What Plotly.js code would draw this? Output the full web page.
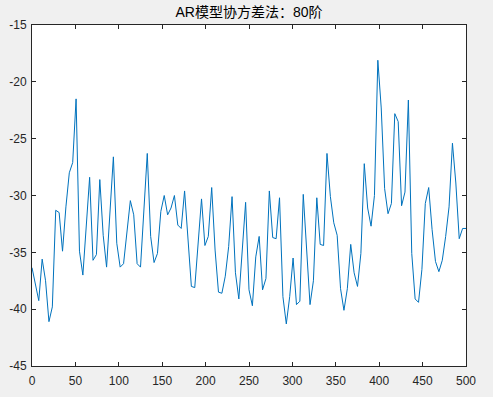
<!DOCTYPE html>
<html>
<head>
<meta charset="utf-8">
<script src="https://cdn.plot.ly/plotly-3.0.1.min.js"></script>
<style>html,body{margin:0;padding:0;background:#f0f0f0;}#chart{width:493px;height:397px;}</style>
</head>
<body>
<div id="chart"></div>
<script>
// Frequency grid: 129 points from 0 to 500 (step 500/128)
const nPoints = 129;
const freqMax = 500;
// Power spectral density values (dB)
const psd = [
  -36.35, -37.8, -39.25, -35.6, -37.5, -41.1, -39.8, -31.3, -31.5, -34.9,
  -31.0, -28.0, -27.1, -21.5, -34.9, -37.0, -32.7, -28.4, -35.7, -35.2,
  -28.6, -33.5, -36.3, -31.5, -26.6, -34.2, -36.3, -36.0, -33.2, -30.45,
  -31.7, -36.0, -36.3, -31.2, -26.3, -33.6, -35.9, -35.1, -31.4, -30.0,
  -31.7, -31.1, -30.0, -32.6, -32.9, -29.6, -34.0, -38.0, -38.1, -34.2,
  -30.3, -34.4, -33.6, -29.3, -34.8, -38.5, -38.6, -37.1, -34.5, -30.1,
  -36.8, -39.1, -34.9, -30.6, -38.3, -39.7, -35.4, -33.6, -38.3, -37.3,
  -29.6, -33.7, -33.8, -30.2, -38.9, -41.3, -38.9, -35.5, -39.6, -39.3,
  -29.9, -34.6, -39.6, -37.5, -30.2, -34.3, -34.4, -26.3, -30.1, -32.4,
  -33.5, -38.2, -40.1, -38.2, -34.3, -36.8, -38.0, -35.1, -27.2, -31.1,
  -32.7, -30.0, -18.1, -22.3, -29.4, -31.6, -30.7, -22.8, -23.5, -30.9,
  -29.7, -21.6, -35.1, -39.1, -39.4, -36.5, -30.7, -29.3, -33.0, -35.8,
  -36.7, -35.7, -33.6, -31.0, -25.4, -28.9, -33.8, -32.9, -32.9
];
const freq = [];
for (let k = 0; k < nPoints; k++) freq.push(k * freqMax / (nPoints - 1));

const xTickVals = [0, 50, 100, 150, 200, 250, 300, 350, 400, 450, 500];
const xTickText = ['0', '50', '100', '150', '200', '250', '300', '350', '400', '450', '500'];
const yTickVals = [-45, -40, -35, -30, -25, -20, -15];
const yTickText = ['-45', '-40', '-35', '-30', '-25', '-20', '-15'];
const titleText = 'AR模型协方差法：80阶';

const fontFam = 'Liberation Sans, Arial, Noto Sans CJK SC, sans-serif';

const axisCommon = {
  showline: true, linecolor: '#262626', linewidth: 1, mirror: 'ticks',
  ticks: 'inside', ticklen: 4, tickwidth: 1, tickcolor: '#262626',
  showgrid: false, zeroline: false, tickmode: 'array',
  tickfont: {family: fontFam, size: 12, color: '#262626'}
};

Plotly.newPlot('chart', [{
  x: freq, y: psd, type: 'scatter', mode: 'lines',
  line: {color: '#0072BD', width: 1}
}], {
  width: 493, height: 397,
  paper_bgcolor: '#f0f0f0', plot_bgcolor: '#ffffff',
  margin: {l: 32, r: 27, t: 25, b: 31, pad: 0},
  showlegend: false,
  title: {text: titleText, x: 0.5, xref: 'paper', xanchor: 'center',
          y: 1 - 12.5 / 397, yref: 'container', yanchor: 'middle',
          font: {family: fontFam, size: 14, color: '#000000'}},
  xaxis: Object.assign({}, axisCommon, {range: [0, 500], tickvals: xTickVals, ticktext: xTickText, ticklabelstandoff: 4}),
  yaxis: Object.assign({}, axisCommon, {range: [-45, -15], tickvals: yTickVals, ticktext: yTickText, ticklabelstandoff: 2})
}, {staticPlot: true, displayModeBar: false});
</script>
</body>
</html>
